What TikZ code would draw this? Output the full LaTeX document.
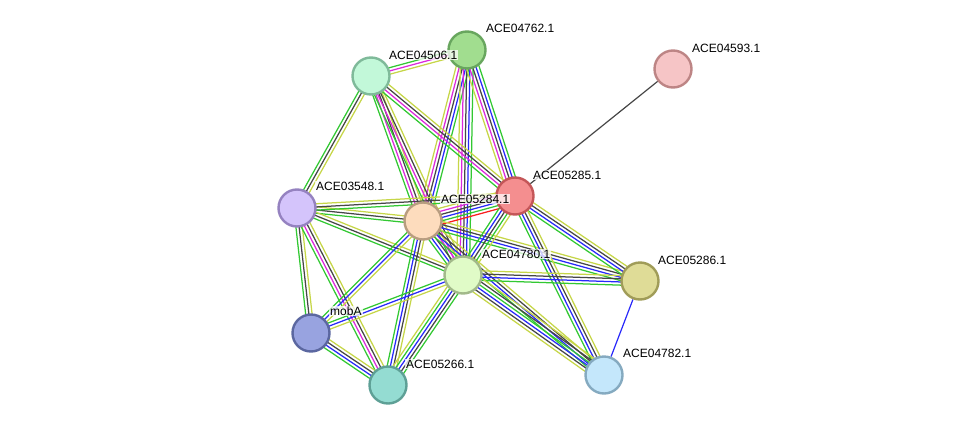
\documentclass[tikz,border=0pt]{standalone}
\usepackage{fontspec}
\setmainfont{Liberation Sans}
\usetikzlibrary{calc,backgrounds}
\definecolor{grn}{RGB}{50,200,50}
\definecolor{yel}{RGB}{198,214,72}
\definecolor{blk}{RGB}{70,70,70}
\definecolor{blu}{RGB}{40,40,250}
\definecolor{mag}{RGB}{220,40,220}
\definecolor{rdd}{RGB}{250,30,30}
\tikzset{
  prot/.style={circle, minimum size=37pt, inner sep=0pt, line width=2.4pt},
  lbl/.style={anchor=west, font=\fontsize{12}{12}\selectfont, fill=white, fill opacity=0.75, text opacity=1, inner sep=1pt},
  strand/.style={line width=1.25pt},
}
\newcommand{\sedge}[3]{%
  \foreach \c [count=\i] in {#3} {\xdef\snum{\i}}%
  \foreach \c [count=\i] in {#3} {%
    \pgfmathsetmacro\soff{(\i-(\snum+1)/2)*3.2}%
    \draw[strand,\c] ($(#1)!\soff pt!90:(#2)$) -- ($(#2)!\soff pt!-90:(#1)$);
  }%
}
\begin{document}
\begin{tikzpicture}[x=1pt,y=-1pt]
\useasboundingbox (0,0) rectangle (976,431);
% nodes
\node[prot, fill={rgb,255:red,161;green,221;blue,143}, draw={rgb,255:red,104;green,166;blue,94}] (A) at (467,50) {};
\node[prot, fill={rgb,255:red,194;green,248;blue,217}, draw={rgb,255:red,127;green,186;blue,154}] (B) at (371,76) {};
\node[prot, fill={rgb,255:red,246;green,197;blue,198}, draw={rgb,255:red,189;green,133;blue,133}] (C) at (673,69) {};
\node[prot, fill={rgb,255:red,244;green,142;blue,143}, draw={rgb,255:red,196;green,86;blue,88}] (D) at (515,196) {};
\node[prot, fill={rgb,255:red,212;green,196;blue,251}, draw={rgb,255:red,149;green,130;blue,192}] (E) at (297,208) {};
\node[prot, fill={rgb,255:red,253;green,220;blue,189}, draw={rgb,255:red,184;green,157;blue,128}] (F) at (423,221) {};
\node[prot, fill={rgb,255:red,224;green,251;blue,199}, draw={rgb,255:red,162;green,185;blue,138}] (G) at (463,275) {};
\node[prot, fill={rgb,255:red,223;green,220;blue,151}, draw={rgb,255:red,160;green,156;blue,88}] (H) at (640,281) {};
\node[prot, fill={rgb,255:red,152;green,163;blue,224}, draw={rgb,255:red,91;green,103;blue,160}] (I) at (311,333) {};
\node[prot, fill={rgb,255:red,148;green,220;blue,210}, draw={rgb,255:red,94;green,160;blue,150}] (J) at (388,385) {};
\node[prot, fill={rgb,255:red,196;green,231;blue,251}, draw={rgb,255:red,133;green,170;blue,192}] (K) at (604,375) {};
% edges
\begin{pgfonlayer}{background}
\sedge{A}{B}{grn,mag,yel}
\sedge{A}{F}{yel,mag,blk,blu,grn}
\sedge{A}{G}{yel,mag,blk,blu,grn}
\sedge{A}{D}{yel,mag,blk,blu,grn}
\sedge{B}{E}{grn,blk,yel}
\sedge{B}{F}{grn,mag,blk,yel}
\sedge{B}{G}{grn,mag,blk,yel}
\sedge{B}{D}{grn,mag,blk,yel}
\draw[line width=1.2pt, blk] (D) -- (C);
\sedge{E}{F}{grn,blk,yel}
\sedge{E}{D}{grn,blk,yel}
\sedge{E}{G}{grn,blk,yel}
\sedge{E}{I}{grn,blk,yel}
\sedge{E}{J}{grn,mag,blk,yel}
\sedge{F}{D}{rdd,grn,blu,blk,mag,yel}
\sedge{F}{G}{grn,blu,blk,mag,yel}
\sedge{F}{H}{grn,blu,blk,yel}
\sedge{F}{K}{grn,blu,blk,yel}
\sedge{F}{I}{grn,blu,yel}
\sedge{F}{J}{grn,blu,blk,yel}
\sedge{D}{G}{grn,blu,blk,grn,yel}
\sedge{D}{H}{grn,blu,blk,yel}
\sedge{D}{K}{grn,blu,blk,yel}
\sedge{G}{H}{grn,blu,blk,yel}
\sedge{G}{K}{yel,blk,blu,grn,blk,yel}
\sedge{G}{I}{grn,blu,yel}
\sedge{G}{J}{yel,grn,blu,blk,grn}
\sedge{I}{J}{grn,blu,blk,yel}
\draw[line width=1.2pt, blu] (H) -- (K);
\end{pgfonlayer}
% labels
\node[lbl] (lA) at ($(A)+(18,-22)$) {ACE04762.1};
\node[lbl] (lB) at ($(B)+(17,-21)$) {ACE04506.1};
\node[lbl] (lC) at ($(C)+(18,-21)$) {ACE04593.1};
\node[lbl] (lD) at ($(D)+(17,-21)$) {ACE05285.1};
\node[lbl] (lE) at ($(E)+(18,-22)$) {ACE03548.1};
\node[lbl] (lF) at ($(F)+(17,-22)$) {ACE05284.1};
\node[lbl] (lG) at ($(G)+(18,-21)$) {ACE04780.1};
\node[lbl] (lH) at ($(H)+(17,-21)$) {ACE05286.1};
\node[lbl] (lI) at ($(I)+(18,-22)$) {mobA};
\node[lbl] (lJ) at ($(J)+(17,-21)$) {ACE05266.1};
\node[lbl] (lK) at ($(K)+(18,-22)$) {ACE04782.1};
\end{tikzpicture}
\end{document}
